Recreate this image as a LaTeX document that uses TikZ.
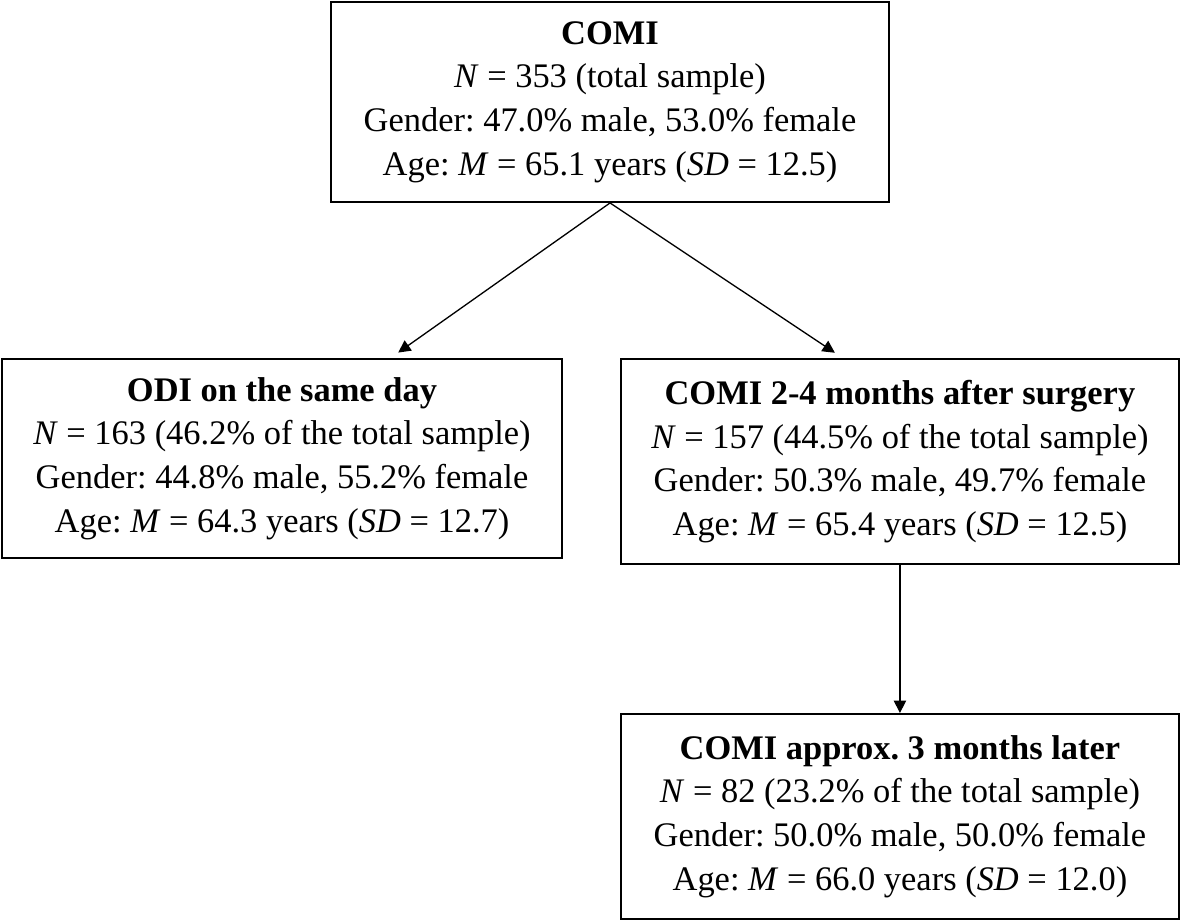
\documentclass[tikz,border=0pt]{standalone}
\usepackage{fontspec}
\setmainfont{Liberation Serif}
\usetikzlibrary{arrows.meta, positioning, calc}
\frenchspacing

\begin{document}
\begin{tikzpicture}[
      box/.style={draw, line width=1.1pt, align=center, inner sep=0pt, minimum width=11.16cm, minimum height=4.1cm, font=\fontsize{19.6}{24.8}\selectfont},
      arrow/.style={-{Triangle[width=7pt, length=7pt]}, line width=0.75pt}
    ]
      \useasboundingbox (0,0) rectangle (23.62,-18.4);
      \node[box, minimum height=4cm] (comi) at (12.2,-2.04) {\textbf{COMI}\\ \textit{N} = 353 (total sample)\\ Gender: 47.0\% male, 53.0\% female\\ Age: \textit{M} = 65.1 years (\textit{SD} = 12.5)};
      \node[box, minimum width=11.2cm, minimum height=3.98cm] (odi) at (5.64,-9.17) {\textbf{ODI on the same day}\\ \textit{N} = 163 (46.2\% of the total sample)\\ Gender: 44.8\% male, 55.2\% female\\ Age: \textit{M} = 64.3 years (\textit{SD} = 12.7)};
      \node[box, right=1.14cm of odi.north east, anchor=north west] (post) {\textbf{COMI 2-4 months after surgery}\\ \textit{N} = 157 (44.5\% of the total sample)\\ Gender: 50.3\% male, 49.7\% female\\ Age: \textit{M} = 65.4 years (\textit{SD} = 12.5)};
      \node[box, below=2.96cm of post] (later) {\textbf{COMI approx. 3 months later}\\ \textit{N} = 82 (23.2\% of the total sample)\\ Gender: 50.0\% male, 50.0\% female\\ Age: \textit{M} = 66.0 years (\textit{SD} = 12.0)};
      \draw[arrow, shorten >=0.19cm] (comi.south) -- ($(odi.north west)!0.693!(odi.north east)$);
      \draw[arrow, shorten >=0.19cm] (comi.south) -- ($(post.north west)!0.398!(post.north east)$);
      \draw[arrow] (post.south) -- (later.north);
    \end{tikzpicture}
\end{document}
